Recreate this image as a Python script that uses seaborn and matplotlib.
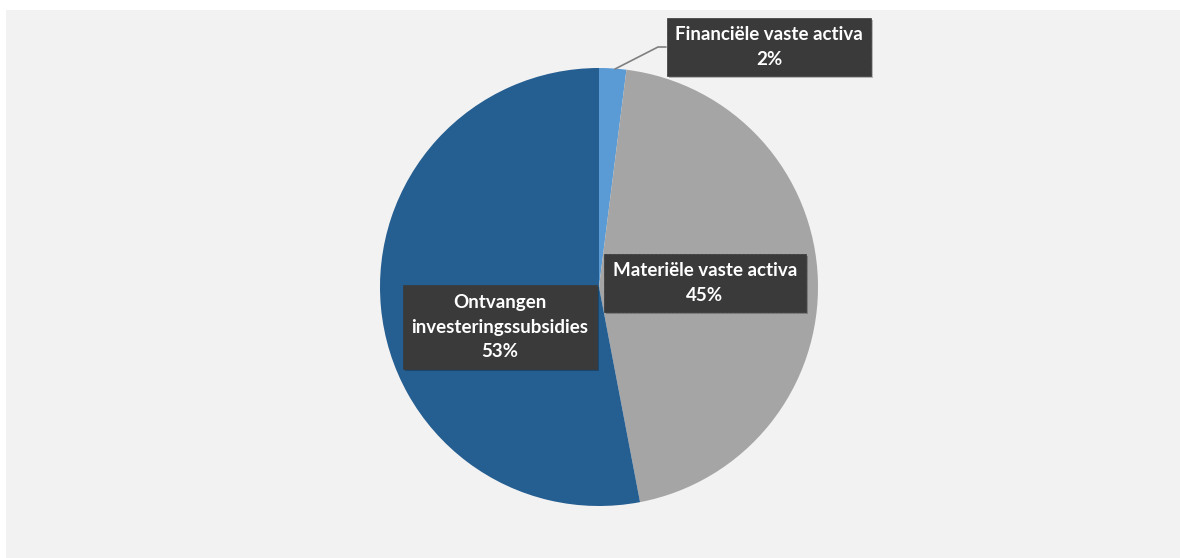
import matplotlib as mpl
mpl.use('Agg')
import matplotlib.pyplot as plt
from matplotlib.patches import Rectangle
import seaborn as sns

sns.set_theme(style='white')
plt.rcParams['font.family'] = ['Lato', 'DejaVu Sans']
plt.rcParams['hatch.color'] = '#4a4a4a'
plt.rcParams['hatch.linewidth'] = 0.6

# data
labels = ['Financiële vaste activa', 'Materiële vaste activa', 'Ontvangen\ninvesteringssubsidies']
shares = [2, 45, 53]
colors = ['#5b9bd5', '#a5a5a5', '#255e91']

W, H = 1180, 558
fig = plt.figure(figsize=(W / 100, H / 100), dpi=100)
fig.patch.set_facecolor('white')
fig.add_artist(Rectangle((6 / W, 0), 1, 1 - 10 / H, transform=fig.transFigure,
                         facecolor='#f2f2f2', edgecolor='none', zorder=-1))

ax = fig.add_axes([0, 0, 1, 1])
ax.patch.set_alpha(0)

wedges, _ = ax.pie(shares, colors=colors, startangle=90, counterclock=False,
                   center=(599, H - 287), radius=219,
                   wedgeprops=dict(linewidth=0))
for w in wedges:
    w.set_zorder(1)

# pie() resets the limits, so set them afterwards
ax.set_xlim(0, W)
ax.set_ylim(0, H)
ax.set_aspect('equal')
ax.axis('off')

# label positions (box centres) in pixels from top-left
label_pos = [(769, 47), (705, 283), (500, 327)]

# leader line for the small slice
ax.plot([615, 658, 666], [H - 69, H - 47, H - 47], color='#7f7f7f', lw=1.2, zorder=2)

for lab, val, (x, y) in zip(labels, shares, label_pos):
    # soft shadow box behind the label
    ax.text(x + 2, H - y - 2, f'{lab}\n{val}%', ha='center', va='center', color='none',
            fontsize=13.5, fontweight='bold', linespacing=1.55, zorder=2.5,
            bbox=dict(boxstyle='square,pad=0.45', facecolor='black', alpha=0.25,
                      edgecolor='none'))
    ax.text(x, H - y, f'{lab}\n{val}%', ha='center', va='center', color='white',
            fontsize=13.5, fontweight='bold', linespacing=1.55, zorder=3,
            bbox=dict(boxstyle='square,pad=0.45', facecolor='#3a3a3a',
                      edgecolor='#3a3a3a', hatch='....', linewidth=0.5))

fig.savefig('out.png', dpi=100, facecolor='white')
